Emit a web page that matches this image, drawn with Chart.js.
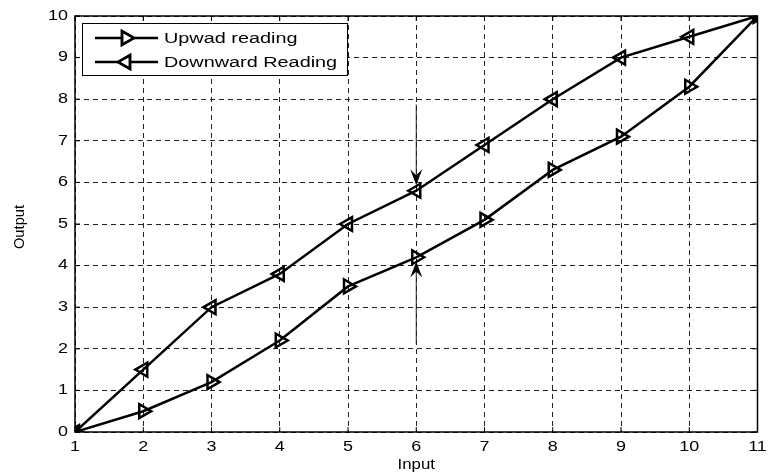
<!DOCTYPE html>
<html><head><meta charset="utf-8">
<script src="https://cdn.jsdelivr.net/npm/chart.js@4/dist/chart.umd.min.js"></script>
<style>html,body{margin:0;padding:0;background:#fff}#wrap{width:768px;height:476px}</style>
</head><body><div id="wrap"><canvas id="c" width="768" height="476"></canvas></div>
<script>
const inputs = [1,2,3,4,5,6,7,8,9,10,11];
const upward = [0,0.5,1.2,2.2,3.5,4.2,5.1,6.3,7.1,8.3,10];
const downward = [0,1.5,3.0,3.8,5.0,5.8,6.9,8.0,9.0,9.5,10];
const seriesNames = ['Upwad reading','Downward Reading'];
const xTicks = [1,2,3,4,5,6,7,8,9,10,11];
const yTicks = [0,1,2,3,4,5,6,7,8,9,10];
const xTitle = 'Input', yTitle = 'Output';
const arrowX = 6;
const arrowDown = [7.87, 5.93];
const arrowUp = [2.12, 4.1];

const FONT = '"Liberation Sans", Arial, sans-serif';
const SX = 1.28;
function stretchText(ctx, txt, x, y, size, align, baseline, sx) {
  ctx.save();
  ctx.translate(x, y);
  ctx.scale(sx || SX, 1);
  ctx.font = size + 'px ' + FONT;
  ctx.textAlign = align; ctx.textBaseline = baseline;
  ctx.fillStyle = '#000';
  ctx.fillText(txt, 0, 0);
  ctx.restore();
}
function arrowHead(ctx, x, y, dir) {
  ctx.beginPath();
  ctx.moveTo(x, y);
  ctx.lineTo(x - 6, y - dir * 16);
  ctx.lineTo(x, y - dir * 10);
  ctx.lineTo(x + 6, y - dir * 16);
  ctx.closePath();
  ctx.fill();
}
const deco = {
  id: 'deco',
  afterDraw(chart) {
    const {ctx, chartArea: a, scales: {x, y}} = chart;
    ctx.save();
    ctx.strokeStyle = '#000'; ctx.lineWidth = 1.5; ctx.setLineDash([]);
    ctx.strokeRect(a.left, a.top, a.right - a.left, a.bottom - a.top);
    ctx.lineWidth = 1;
    xTicks.forEach(v => { const px = x.getPixelForValue(v);
      ctx.beginPath(); ctx.moveTo(px, a.bottom); ctx.lineTo(px, a.bottom - 5);
      ctx.moveTo(px, a.top); ctx.lineTo(px, a.top + 5); ctx.stroke(); });
    yTicks.forEach(v => { const py = y.getPixelForValue(v);
      ctx.beginPath(); ctx.moveTo(a.left, py); ctx.lineTo(a.left + 5, py);
      ctx.moveTo(a.right, py); ctx.lineTo(a.right - 5, py); ctx.stroke(); });
    xTicks.forEach(v => stretchText(ctx, String(v), x.getPixelForValue(v), a.bottom + 15, 14, 'center', 'middle'));
    yTicks.forEach(v => stretchText(ctx, String(v), a.left - 7, y.getPixelForValue(v), 14, 'right', 'middle'));
    stretchText(ctx, xTitle, (a.left + a.right) / 2, a.bottom + 33, 14, 'center', 'middle', 1.2);
    ctx.save(); ctx.translate(20, (a.top + a.bottom) / 2 + 3); ctx.rotate(-Math.PI / 2);
    ctx.font = '14px ' + FONT; ctx.textAlign = 'center'; ctx.textBaseline = 'middle'; ctx.fillStyle = '#000';
    ctx.scale(1.05, 1); ctx.fillText(yTitle, 0, 0); ctx.restore();
    const ax = x.getPixelForValue(arrowX);
    ctx.strokeStyle = '#222'; ctx.fillStyle = '#000'; ctx.lineWidth = 1;
    let y1 = y.getPixelForValue(arrowDown[0]), y2 = y.getPixelForValue(arrowDown[1]);
    ctx.beginPath(); ctx.moveTo(ax, y1); ctx.lineTo(ax, y2 - 4); ctx.stroke();
    arrowHead(ctx, ax, y2, 1);
    y1 = y.getPixelForValue(arrowUp[0]); y2 = y.getPixelForValue(arrowUp[1]);
    ctx.beginPath(); ctx.moveTo(ax, y1); ctx.lineTo(ax, y2 + 4); ctx.stroke();
    arrowHead(ctx, ax, y2, -1);
    const lx = a.left + 7, ly = a.top + 7, lw = 265, lh = 52;
    ctx.fillStyle = '#fff'; ctx.fillRect(lx, ly, lw, lh);
    ctx.strokeStyle = '#000'; ctx.lineWidth = 1; ctx.strokeRect(lx + 0.5, ly + 0.5, lw, lh);
    const rows = [ly + 15, ly + 39];
    chart.data.datasets.forEach((ds, i) => {
      const ry = rows[i];
      ctx.strokeStyle = '#000'; ctx.lineWidth = 2.5;
      ctx.beginPath(); ctx.moveTo(lx + 13, ry); ctx.lineTo(lx + 76, ry); ctx.stroke();
      Chart.helpers.drawPoint(ctx, {pointStyle: 'triangle', rotation: ds.pointRotation, radius: 8, borderWidth: 2.5}, lx + 44, ry);
      ctx.stroke();
      stretchText(ctx, ds.label, lx + 82, ry + 1, 15.5, 'left', 'middle');
    });
    ctx.restore();
  }
};
new Chart(document.getElementById('c'), {
  type: 'line',
  data: {
    datasets: [
      {label: seriesNames[0], data: inputs.map((v, i) => ({x: v, y: upward[i]})), pointRotation: 90},
      {label: seriesNames[1], data: inputs.map((v, i) => ({x: v, y: downward[i]})), pointRotation: -90}
    ].map(d => Object.assign(d, {borderColor: '#000', borderWidth: 2.5, pointStyle: 'triangle', pointRadius: 8,
      pointBorderWidth: 2.5, pointBorderColor: '#000', pointBackgroundColor: 'rgba(0,0,0,0)', tension: 0, fill: false}))
  },
  options: {
    responsive: false, animation: false, devicePixelRatio: 1,
    layout: {padding: {top: 16, right: 8, left: 0, bottom: 0}},
    plugins: {legend: {display: false}, tooltip: {enabled: false}},
    scales: {
      x: {type: 'linear', min: 1, max: 11, ticks: {stepSize: 1, display: false},
        grid: {color: '#222', lineWidth: 1, drawTicks: false}, border: {display: false, dash: [5, 4]},
        afterFit(s) { s.height = 44; }},
      y: {type: 'linear', min: 0, max: 10, ticks: {stepSize: 1, display: false},
        grid: {color: '#222', lineWidth: 1, drawTicks: false}, border: {display: false, dash: [5, 4]},
        afterFit(s) { s.width = 75; }}
    }
  },
  plugins: [deco]
});
</script></body></html>
